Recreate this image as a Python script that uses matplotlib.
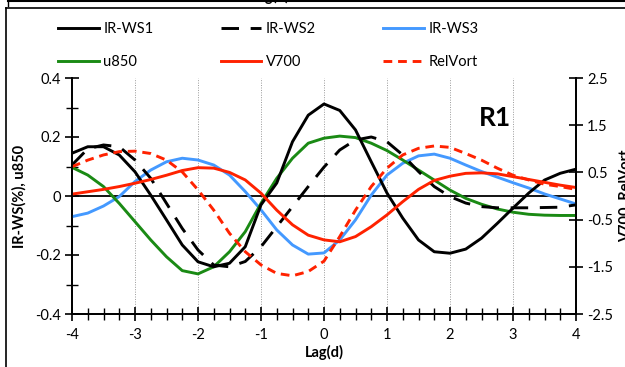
import matplotlib
matplotlib.use("Agg")
import matplotlib.pyplot as plt
from matplotlib.lines import Line2D
import numpy as np

plt.rcParams['font.family'] = ['Lato', 'DejaVu Sans']

lag = [-4, -3.75, -3.5, -3.25, -3, -2.75, -2.5, -2.25, -2, -1.75, -1.5, -1.25, -1,
       -0.75, -0.5, -0.25, 0, 0.25, 0.5, 0.75, 1, 1.25, 1.5, 1.75, 2, 2.25, 2.5,
       2.75, 3, 3.25, 3.5, 3.75, 4]

ir_ws1 = [0.145, 0.167, 0.167, 0.139, 0.082, 0.003, -0.081, -0.166, -0.223, -0.24,
          -0.228, -0.172, -0.03, 0.044, 0.184, 0.274, 0.312, 0.29, 0.224, 0.116,
          0.01, -0.075, -0.149, -0.189, -0.194, -0.18, -0.143, -0.093, -0.041,
          0.01, 0.054, 0.077, 0.091]
ir_ws2 = [0.105, 0.16, 0.173, 0.167, 0.122, 0.06, -0.025, -0.11, -0.183, -0.234,
          -0.24, -0.222, -0.172, -0.104, -0.036, 0.032, 0.098, 0.156, 0.19, 0.2,
          0.184, 0.139, 0.083, 0.032, -0.002, -0.024, -0.036, -0.04, -0.04, -0.04,
          -0.039, -0.038, -0.03]
ir_ws3 = [-0.07, -0.058, -0.034, -0.002, 0.049, 0.088, 0.116, 0.128, 0.122, 0.105,
          0.071, 0.015, -0.047, -0.115, -0.166, -0.197, -0.193, -0.149, -0.081,
          0.003, 0.071, 0.111, 0.136, 0.142, 0.128, 0.105, 0.083, 0.064, 0.045,
          0.027, 0.007, -0.01, -0.027]
u850 = [0.097, 0.071, 0.032, -0.025, -0.087, -0.149, -0.206, -0.253, -0.264, -0.24,
        -0.189, -0.121, -0.025, 0.06, 0.128, 0.179, 0.196, 0.203, 0.198, 0.179,
        0.154, 0.122, 0.088, 0.054, 0.02, -0.008, -0.028, -0.044, -0.055, -0.062,
        -0.065, -0.066, -0.066]
v700 = [0.04, 0.09, 0.14, 0.2, 0.27, 0.35, 0.44, 0.54, 0.6, 0.59, 0.5, 0.34, 0.06,
        -0.3, -0.61, -0.83, -0.93, -0.97, -0.86, -0.65, -0.4, -0.12, 0.14, 0.33,
        0.42, 0.48, 0.49, 0.47, 0.41, 0.35, 0.29, 0.23, 0.18]
relvort = [0.62, 0.76, 0.87, 0.94, 0.95, 0.9, 0.76, 0.51, 0.13, -0.3, -0.79, -1.18,
           -1.46, -1.64, -1.69, -1.6, -1.38, -0.86, -0.3, 0.2, 0.59, 0.87, 1.01,
           1.06, 1.03, 0.9, 0.76, 0.59, 0.44, 0.34, 0.25, 0.2, 0.14]

left_ticks = [-0.4, -0.2, 0, 0.2, 0.4]
left_labels = ['-0.4', '-0.2', '0', '0.2', '0.4']
right_ticks = [-2.5, -1.5, -0.5, 0.5, 1.5, 2.5]
right_labels = ['-2.5', '-1.5', '-0.5', '0.5', '1.5', '2.5']
x_ticks = [-4, -3, -2, -1, 0, 1, 2, 3, 4]

BLACK = '#000000'
BLUE = '#4499FF'
GREEN = '#1A8A14'
RED = '#FF2200'

W, H = 625, 367
fig = plt.figure(figsize=(6.25, 3.67), dpi=100)
ax = fig.add_axes([72 / W, 1 - 314 / H, (576 - 72) / W, (314 - 78) / H])
ax2 = ax.twinx()

lw = 2.1
l1, = ax.plot(lag, ir_ws1, color=BLACK, lw=lw, label='IR-WS1', zorder=5)
l2, = ax.plot(lag, ir_ws2, color=BLACK, lw=lw, ls=(0, (6, 4)), label='IR-WS2', zorder=5)
l3, = ax.plot(lag, ir_ws3, color=BLUE, lw=lw, label='IR-WS3', zorder=4)
l4, = ax.plot(lag, u850, color=GREEN, lw=lw, label='u850', zorder=4)
l5, = ax2.plot(lag, v700, color=RED, lw=lw, label='V700')
l6, = ax2.plot(lag, relvort, color=RED, lw=lw, ls=(0, (3, 2)), label='RelVort')

ax.set_xlim(-4, 4)
ax.set_ylim(-0.4, 0.4)
ax2.set_ylim(-2.5, 2.5)

ax.axhline(0, color='black', lw=1.3, zorder=3)
for xv in x_ticks[1:-1]:
    ax.axvline(xv, color='#999999', lw=0.7, ls=(0, (1, 1.5)), zorder=1)

ax.set_xticks(x_ticks)
ax.set_xticklabels([str(v) for v in x_ticks])
ax.set_xticks(np.arange(-4, 4.01, 0.25), minor=True)
ax.set_yticks(left_ticks)
ax.set_yticklabels(left_labels)
ax.set_yticks(np.arange(-0.4, 0.41, 0.1), minor=True)
ax2.set_yticks(right_ticks)
ax2.set_yticklabels(right_labels)
ax2.yaxis.set_minor_locator(matplotlib.ticker.NullLocator())

for a in (ax, ax2):
    a.spines['top'].set_visible(False)
    for s in ('left', 'right', 'bottom'):
        a.spines[s].set_linewidth(1.3)
ax.tick_params(axis='both', which='major', direction='inout', length=10, width=1.2,
               labelsize=10.5, pad=3)
ax.tick_params(axis='both', which='minor', direction='inout', length=8, width=1.0)
ax.tick_params(axis='x', which='major', pad=5)
ax2.tick_params(axis='y', which='major', direction='inout', length=10, width=1.2,
                labelsize=10.5, pad=3)

ax.set_xlabel('Lag(d)', fontsize=10.5, fontweight='bold', labelpad=2)
ax.set_ylabel('IR-WS(%), u850', fontsize=10.5, fontweight='bold', labelpad=6)
ax2.set_ylabel('V700, RelVort', fontsize=10.5, fontweight='bold', labelpad=4)

ax.text(495 / W, 1 - 118 / H, 'R1', transform=fig.transFigure, fontsize=19,
        fontweight='bold', ha='center', va='center')

handles = [l1, l4, l2, l5, l3, l6]
fig.legend(handles=handles, labels=[h.get_label() for h in handles], ncol=3,
           loc='upper left', bbox_to_anchor=(48 / W, 1 - 12 / H), frameon=False,
           fontsize=10.5, handlelength=2.8, handletextpad=0.3, columnspacing=4.6,
           labelspacing=1.3, borderpad=0.2)

# outer frame and remnant of the panel above
fig.add_artist(Line2D([6 / W, 6 / W], [0, 1 - 8 / H], transform=fig.transFigure,
                      color='black', lw=1.2))
fig.add_artist(Line2D([6 / W, 1], [1 - 8 / H, 1 - 8 / H], transform=fig.transFigure,
                      color='black', lw=1.2))
fig.add_artist(Line2D([8 / W, 8 / W], [1 - 6 / H, 1], transform=fig.transFigure,
                      color='black', lw=1.0))
fig.add_artist(Line2D([8 / W, 1], [1 - 1 / H, 1 - 1 / H], transform=fig.transFigure,
                      color='black', lw=1.5))
fig.text(270 / W, 1 + 4 / H, 'Lag(d)', fontsize=10.5, fontweight='bold',
         ha='center', va='center')

fig.savefig('out.png', dpi=100)
